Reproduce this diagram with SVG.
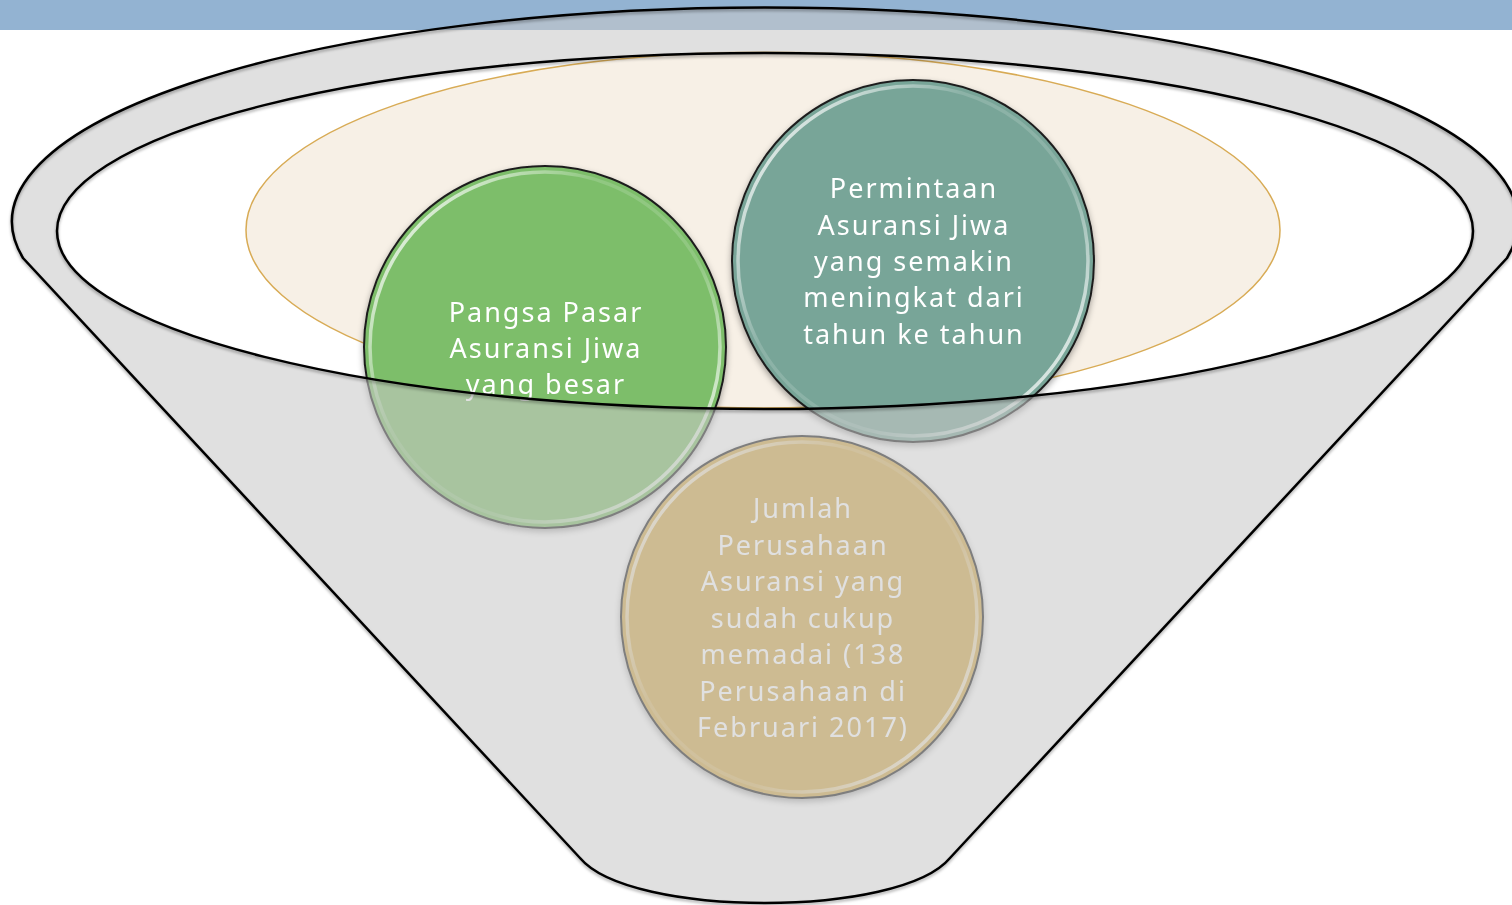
<svg xmlns="http://www.w3.org/2000/svg" width="1512" height="905" viewBox="0 0 1512 905">
<style>
.lbl{font-family:"Noto Sans","DejaVu Sans",sans-serif;font-size:27px;fill:#ffffff;text-anchor:middle;letter-spacing:2px}
.edge{stroke:#1e1e1e;stroke-width:2}
.ring{fill:none;stroke:url(#hl);stroke-width:3.5}
.fl{fill:none;stroke:#000;stroke-width:2.5}
</style>
<defs>
<linearGradient id="hl" x1="0" y1="0.1" x2="1" y2="0.9">
<stop offset="0" stop-color="#fff" stop-opacity="0.95"/>
<stop offset="0.35" stop-color="#fff" stop-opacity="0.15"/>
<stop offset="0.65" stop-color="#fff" stop-opacity="0.15"/>
<stop offset="1" stop-color="#fff" stop-opacity="0.95"/>
</linearGradient>
<filter id="sh" x="-10%" y="-10%" width="120%" height="125%">
<feDropShadow dx="0" dy="3" stdDeviation="3" flood-color="#000" flood-opacity="0.35"/>
</filter>
<filter id="lsh" x="-5%" y="-5%" width="110%" height="110%">
<feDropShadow dx="0" dy="2" stdDeviation="1.5" flood-color="#000" flood-opacity="0.35"/>
</filter>
</defs>
<rect width="1512" height="905" fill="#ffffff"/>
<rect width="1512" height="30" fill="#93b3d2"/>
<ellipse id="inner-oval" cx="763" cy="230" rx="517" ry="178" fill="#f7f0e6" stroke="#d8ab55" stroke-width="1.5"/>
<g id="node-pangsa" filter="url(#sh)">
<circle cx="545" cy="347" r="181" fill="#7dbe6b" class="edge"/>
<circle cx="545" cy="347" r="175" class="ring"/>
<text class="lbl"><tspan x="546" y="322">Pangsa Pasar</tspan><tspan x="546" y="358">Asuransi Jiwa</tspan><tspan x="546" y="394">yang besar</tspan></text>
</g>
<g id="node-permintaan" filter="url(#sh)">
<circle cx="913" cy="261" r="181" fill="#78a598" class="edge"/>
<circle cx="913" cy="261" r="175" class="ring"/>
<text class="lbl"><tspan x="914" y="198">Permintaan</tspan><tspan x="914" y="235">Asuransi Jiwa</tspan><tspan x="914" y="271">yang semakin</tspan><tspan x="914" y="307">meningkat dari</tspan><tspan x="914" y="344">tahun ke tahun</tspan></text>
</g>
<g id="node-jumlah" filter="url(#sh)">
<circle cx="802" cy="617" r="181" fill="#d4aa4b" class="edge"/>
<circle cx="802" cy="617" r="175" class="ring"/>
<text class="lbl"><tspan x="803" y="518">Jumlah</tspan><tspan x="803" y="555">Perusahaan</tspan><tspan x="803" y="591">Asuransi yang</tspan><tspan x="803" y="628">sudah cukup</tspan><tspan x="803" y="664">memadai (138</tspan><tspan x="803" y="701">Perusahaan di</tspan><tspan x="803" y="737">Februari 2017)</tspan></text>
</g>
<g id="funnel">
<path fill-rule="evenodd" fill="#c9c9c9" fill-opacity="0.57" d="M580,858 L23,258 A753,214 0 1 1 1507,258 L950,858 C900,918 630,918 580,858 Z M57,231 A708,178 0 1 0 1473,231 A708,178 0 1 0 57,231 Z"/>
<g filter="url(#lsh)">
<path class="fl" d="M580,858 L23,258 A753,214 0 1 1 1507,258 L950,858 C900,918 630,918 580,858 Z"/>
<ellipse class="fl" cx="765" cy="231" rx="708" ry="178"/>
</g>
</g>
</svg>
